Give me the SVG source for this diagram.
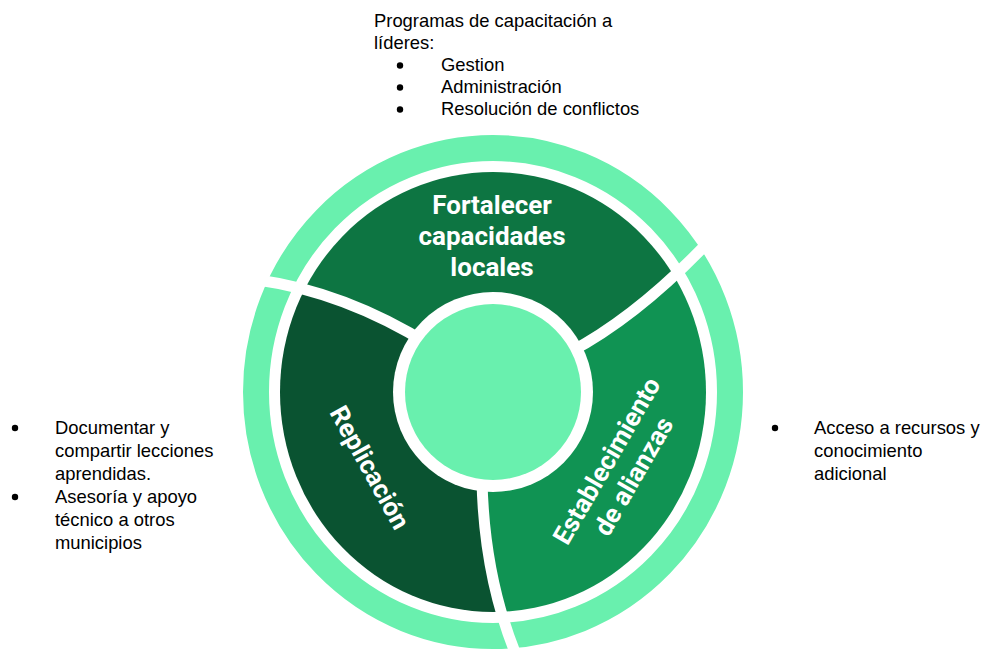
<svg xmlns="http://www.w3.org/2000/svg" width="984" height="652" viewBox="0 0 984 652">
  <style>
    .note { font-family: "Liberation Sans", Arial, sans-serif; font-size: 18.4px; fill: #000000; }
    .seg-label { font-family: Roboto, "Liberation Sans", sans-serif; font-weight: bold; font-size: 26px; fill: #ffffff; text-anchor: middle; }
    .sep { fill: none; stroke: #ffffff; stroke-width: 11; }
    .light { fill: #69f0ae; }
  </style>
  <defs>
    <clipPath id="segClip">
      <ellipse cx="493" cy="392" rx="213" ry="220"/>
    </clipPath>
  </defs>
  <rect x="0" y="0" width="984" height="652" fill="#ffffff"/>

  <g id="outer-ring">
    <ellipse cx="493" cy="392" rx="237" ry="244" fill="none" stroke="#69f0ae" stroke-width="26"/>
  </g>

  <g id="fortalecer">
    <path clip-path="url(#segClip)" fill="#0d7542" d="M493 392 L430 345 Q345 292 262 281 L200 80 L800 80 L712 238 Q640 315 570 352 Z"/>
    <text class="seg-label" x="492" y="214">Fortalecer</text>
    <text class="seg-label" x="492" y="245">capacidades</text>
    <text class="seg-label" x="492" y="276">locales</text>
  </g>

  <g id="establecimiento">
    <path clip-path="url(#segClip)" fill="#109353" d="M493 392 L570 352 Q640 315 712 238 L800 80 L800 700 L518 660 Q484 580 482 480 Z"/>
    <g transform="translate(621 469) rotate(-60)">
      <text class="seg-label" x="0" y="-7.5">Establecimiento</text>
      <text class="seg-label" x="0" y="23.5">de alianzas</text>
    </g>
  </g>

  <g id="replicacion">
    <path clip-path="url(#segClip)" fill="#0a5331" d="M493 392 L482 480 Q484 580 518 660 L200 700 L200 80 L262 281 Q345 292 430 345 Z"/>
    <g transform="translate(369 468) rotate(61)">
      <text class="seg-label" x="0" y="8">Replicación</text>
    </g>
  </g>

  <g id="connectors">
    <path class="sep" d="M430 345 Q345 292 258 280"/>
    <path class="sep" d="M570 352 Q640 315 714 236"/>
    <path class="sep" d="M482 480 Q484 580 519 662"/>
  </g>

  <g id="center">
    <circle cx="493" cy="392" r="100" fill="#ffffff"/>
    <circle cx="493" cy="392" r="88" class="light"/>
  </g>

  <g id="note-top">
    <text class="note" x="374" y="27">Programas de capacitación a</text>
    <text class="note" x="374" y="49">líderes:</text>
    <circle cx="400" cy="65.5" r="3.2" fill="#000"/>
    <text class="note" x="441" y="71">Gestion</text>
    <circle cx="400" cy="87.5" r="3.2" fill="#000"/>
    <text class="note" x="441" y="93">Administración</text>
    <circle cx="400" cy="109.5" r="3.2" fill="#000"/>
    <text class="note" x="441" y="115">Resolución de conflictos</text>
  </g>

  <g id="note-left">
    <circle cx="15" cy="428" r="3.2" fill="#000"/>
    <text class="note" x="55" y="434">Documentar y</text>
    <text class="note" x="55" y="457">compartir lecciones</text>
    <text class="note" x="55" y="480">aprendidas.</text>
    <circle cx="15" cy="497" r="3.2" fill="#000"/>
    <text class="note" x="55" y="503">Asesoría y apoyo</text>
    <text class="note" x="55" y="526">técnico a otros</text>
    <text class="note" x="55" y="549">municipios</text>
  </g>

  <g id="note-right">
    <circle cx="775" cy="428" r="3.2" fill="#000"/>
    <text class="note" x="814" y="434">Acceso a recursos y</text>
    <text class="note" x="814" y="457">conocimiento</text>
    <text class="note" x="814" y="480">adicional</text>
  </g>
</svg>
